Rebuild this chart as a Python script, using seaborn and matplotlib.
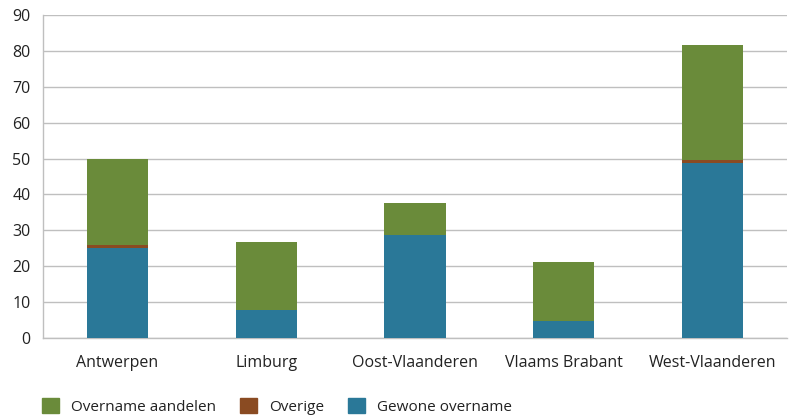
import numpy as np
import pandas as pd
import matplotlib.pyplot as plt
import seaborn as sns
from matplotlib.patches import Patch

plt.switch_backend('Agg')

# Data
provinces = ["Antwerpen", "Limburg", "Oost-Vlaanderen", "Vlaams Brabant", "West-Vlaanderen"]
gewone_overname = [25.0, 7.9, 28.8, 4.7, 48.7]
overige = [1.0, 0.0, 0.0, 0.0, 1.0]
overname_aandelen = [24.0, 18.8, 8.8, 16.5, 32.0]

colors = {
    "Overname aandelen": "#6A8B3A",
    "Overige": "#8A4B22",
    "Gewone overname": "#2A7898",
}
grid_col = "#BFBFBF"

df = pd.DataFrame({
    "provincie": provinces,
    "Gewone overname": gewone_overname,
    "Overige": overige,
    "Overname aandelen": overname_aandelen,
})
# cumulative heights so we can overlay bars
df["top_gewone"] = df["Gewone overname"]
df["top_overige"] = df["top_gewone"] + df["Overige"]
df["top_aandelen"] = df["top_overige"] + df["Overname aandelen"]

sns.set_style("white")
plt.rcParams['font.family'] = ['Open Sans', 'DejaVu Sans']

fig, ax = plt.subplots(figsize=(7.89, 4.17), dpi=100)
fig.subplots_adjust(left=43/789, right=787/789, top=1-15/417, bottom=1-338/417)

for col, label in [("top_aandelen", "Overname aandelen"),
                   ("top_overige", "Overige"),
                   ("top_gewone", "Gewone overname")]:
    sns.barplot(data=df, x="provincie", y=col, color=colors[label],
                width=0.41, saturation=1, linewidth=0, ax=ax, zorder=3)

ax.set_ylim(0, 90)
ax.set_xlim(-0.5, 4.5)
ax.set_yticks(np.arange(0, 91, 10))
ax.yaxis.grid(True, color=grid_col, linewidth=1)
ax.set_axisbelow(True)
ax.set_xlabel("")
ax.set_ylabel("")

for side in ["top", "right"]:
    ax.spines[side].set_visible(False)
for side in ["left", "bottom"]:
    ax.spines[side].set_color(grid_col)
    ax.spines[side].set_linewidth(1)

ax.tick_params(axis="y", length=6, color=grid_col, labelsize=11.5, labelcolor="#222222", pad=3)
ax.tick_params(axis="x", which="major", length=0, labelsize=11.5, labelcolor="#222222", pad=12)
ax.set_xticks(np.arange(-0.5, 5, 1), minor=True)
ax.tick_params(axis="x", which="minor", length=8, color=grid_col)

handles = [Patch(color=colors[k]) for k in ["Overname aandelen", "Overige", "Gewone overname"]]
fig.legend(handles, ["Overname aandelen", "Overige", "Gewone overname"],
           loc="lower left", bbox_to_anchor=(0.036, -0.027), ncol=3, frameon=False,
           fontsize=11, handlelength=1.1, handleheight=1.1, handletextpad=0.8,
           columnspacing=1.55, labelcolor="#222222")

plt.savefig("out.png", dpi=100)
